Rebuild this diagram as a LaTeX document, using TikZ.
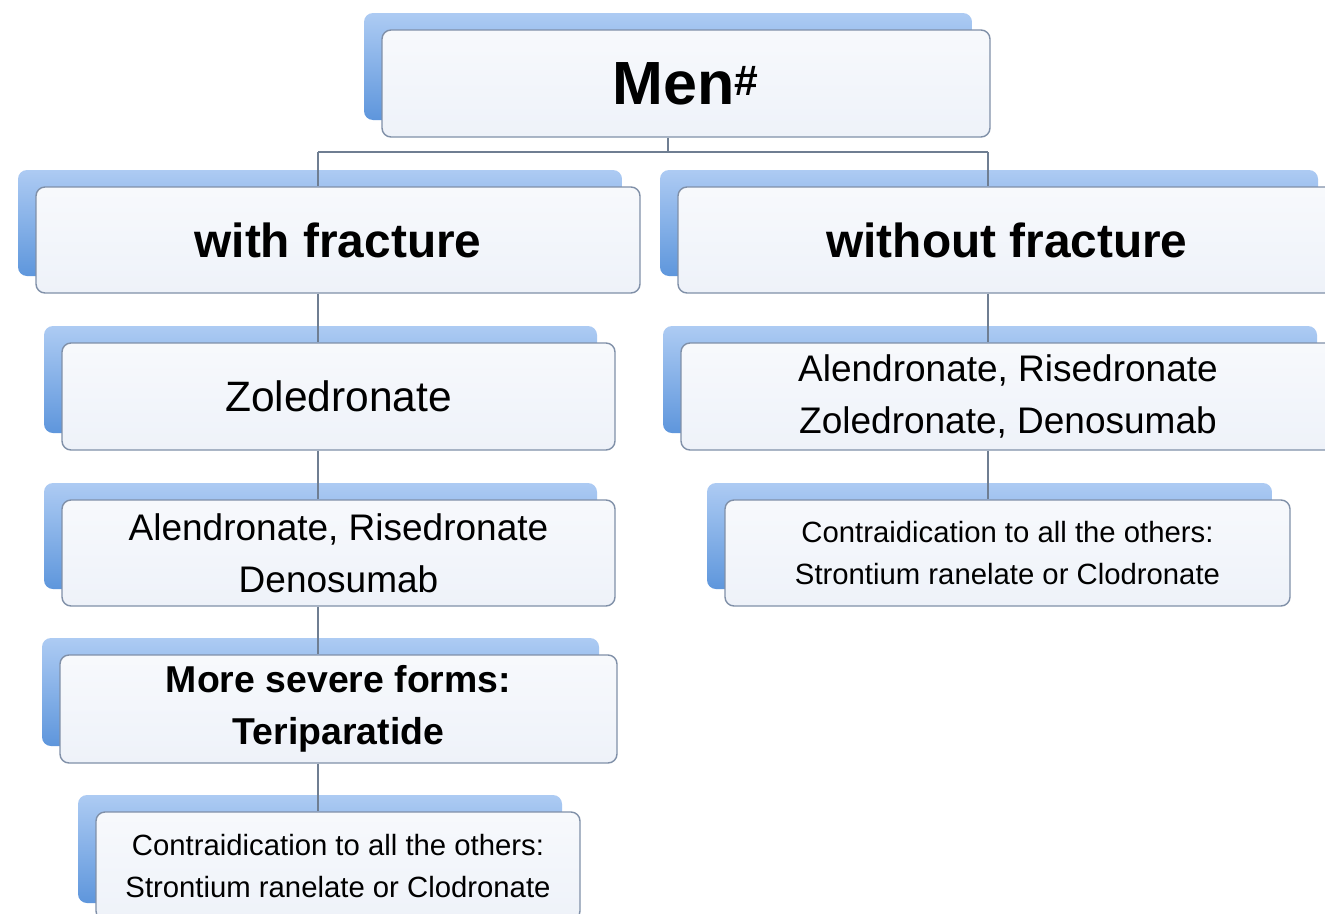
\documentclass[tikz,border=0pt]{standalone}
\usepackage{fontspec}
\setmainfont{Liberation Sans}
\usetikzlibrary{shadows}
\definecolor{tabtop}{HTML}{ADCBF3}
\definecolor{tabbot}{HTML}{5E96DC}
\definecolor{boxfill}{HTML}{EEF2F9}
\definecolor{boxedge}{HTML}{8090A8}
\definecolor{linecol}{HTML}{6F7E92}
\tikzset{
  card/.style={draw=boxedge, line width=1.4pt, rounded corners=9pt,
    top color=white!55!boxfill, bottom color=boxfill,
    inner sep=0pt, align=center, text=black,
    general shadow={shadow xshift=-18pt, shadow yshift=17pt,
      draw=none, top color=tabtop, bottom color=tabbot}},
  conn/.style={draw=linecol, line width=1.3pt},
  fhuge/.style={font=\fontsize{61}{70}\selectfont\bfseries},
  fbig/.style={font=\fontsize{47.8}{56}\selectfont\bfseries},
  fmed/.style={font=\fontsize{37}{52}\selectfont},
  fmedb/.style={font=\fontsize{37.4}{52}\selectfont\bfseries},
  fzol/.style={font=\fontsize{42.5}{50}\selectfont},
  fsmall/.style={font=\fontsize{29.3}{42}\selectfont},
}
\begin{document}
\begin{tikzpicture}[x=1pt,y=-1pt]
\useasboundingbox (0,0) rectangle (1325,913);
\clip (0,0) rectangle (1325,913);
\fill[white] (0,0) rectangle (1325,913);
% junction coordinates
\coordinate (mx) at (668,152);
\coordinate (lx) at (318,152);
\coordinate (rx) at (988,152);
\node[card, fhuge, minimum width=608pt, minimum height=107pt] (men) at (686,83.5) {Men\textsuperscript{\#}};
% left column
\node[card, fbig, minimum width=604pt, minimum height=106pt] (with) at (338,240) {with fracture};
\node[card, fzol, minimum width=553pt, minimum height=107pt] (zol) at (338.5,396.5) {Zoledronate};
\node[card, fmed, minimum width=553pt, minimum height=106pt] (alL) at (338.5,553) {Alendronate, Risedronate\\Denosumab};
\node[card, fmedb, minimum width=557pt, minimum height=108pt] (sev) at (338.5,709) {More severe forms:\\Teriparatide};
\node[card, fsmall, minimum width=484pt, minimum height=108pt] (conL) at (338,866) {Contraidication to all the others:\\Strontium ranelate or Clodronate};
% right column
\node[card, fbig, minimum width=658pt, minimum height=106pt] (without) at (1007,240) {without fracture};
\node[card, fmed, minimum width=654pt, minimum height=107pt] (alR) at (1008,396.5) {Alendronate, Risedronate\\Zoledronate, Denosumab};
\node[card, fsmall, minimum width=565pt, minimum height=106pt] (conR) at (1007.5,553) {Contraidication to all the others:\\Strontium ranelate or Clodronate};
% connectors
\draw[conn] (men.south -| mx) -- (mx);
\draw[conn] (lx) -- (rx);
\draw[conn] (lx) -- (with.north -| lx);
\draw[conn] (rx) -- (without.north -| rx);
\draw[conn] (with.south -| lx) -- (zol.north -| lx);
\draw[conn] (zol.south -| lx) -- (alL.north -| lx);
\draw[conn] (alL.south -| lx) -- (sev.north -| lx);
\draw[conn] (sev.south -| lx) -- (conL.north -| lx);
\draw[conn] (without.south -| rx) -- (alR.north -| rx);
\draw[conn] (alR.south -| rx) -- (conR.north -| rx);
\end{tikzpicture}
\end{document}
